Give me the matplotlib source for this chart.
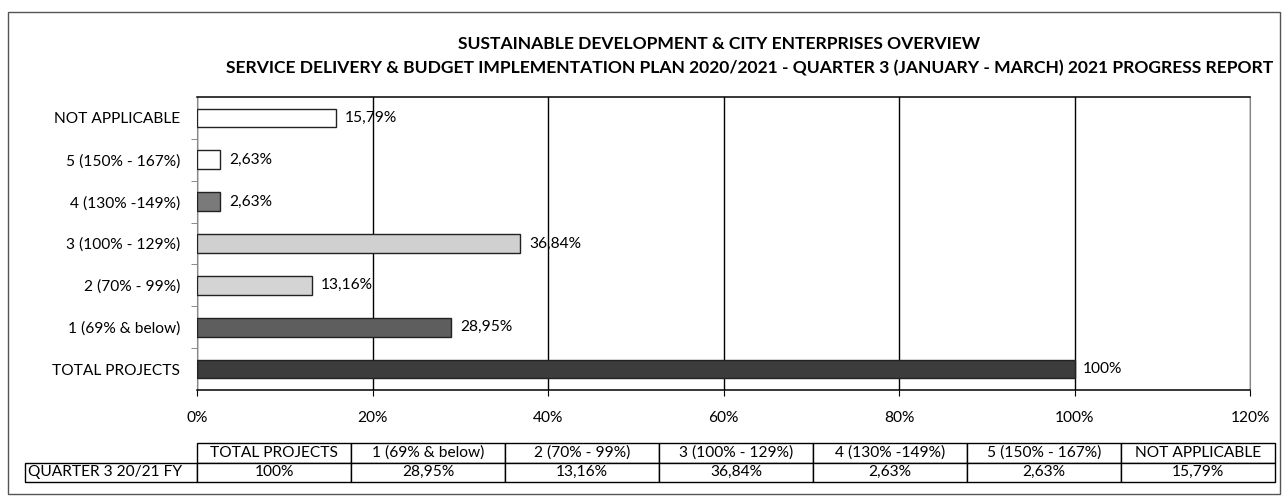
import matplotlib.pyplot as plt
from matplotlib.table import Table
from matplotlib.patches import Rectangle

# Chart data (bottom to top as drawn)
categories = ["TOTAL PROJECTS", "1 (69% & below)", "2 (70% - 99%)", "3 (100% - 129%)",
              "4 (130% -149%)", "5 (150% - 167%)", "NOT APPLICABLE"]
values = [100, 28.95, 13.16, 36.84, 2.63, 2.63, 15.79]
bar_colors = ["#3c3c3c", "#5e5e5e", "#d4d4d4", "#d0d0d0", "#7a7a7a", "#ffffff", "#ffffff"]
x_ticks = [0, 20, 40, 60, 80, 100, 120]
row_label = "QUARTER 3 20/21 FY"
title_1 = "SUSTAINABLE DEVELOPMENT & CITY ENTERPRISES OVERVIEW"
title_2 = ("SERVICE DELIVERY & BUDGET IMPLEMENTATION PLAN 2020/2021 - "
           "QUARTER 3 (JANUARY - MARCH) 2021 PROGRESS REPORT")


def pct(v):
    if v == int(v):
        return f"{int(v)}%"
    return f"{v:.2f}".replace(".", ",") + "%"


plt.rcParams['font.family'] = ['Lato', 'DejaVu Sans']
FS = 11.2
TFS = 12.6

fig = plt.figure(figsize=(12.84, 5.04), dpi=100)
W, H = 1284, 504
ax = fig.add_axes([197 / W, 1 - 390 / H, (1250 - 197) / W, (390 - 97) / H])

# outer frame
fig.patches.append(Rectangle((8 / W, 1 - 494 / H), 1272 / W, 482 / H,
                             transform=fig.transFigure, fill=False,
                             edgecolor="#555555", linewidth=1.0))

ypos = list(range(len(categories)))
ax.barh(ypos, values, height=0.45, color=bar_colors, edgecolor="#222222",
        linewidth=1.0, zorder=3)
for y, v in zip(ypos, values):
    ax.text(v + 1.0, y, pct(v), va="center", ha="left", fontsize=FS, zorder=4)

ax.set_xlim(0, 120)
ax.set_ylim(-0.5, len(categories) - 0.5)
ax.set_xticks(x_ticks)
ax.set_xticklabels([pct(t) for t in x_ticks], fontsize=FS)
ax.set_yticks(ypos)
ax.set_yticklabels(categories, fontsize=FS)
ax.set_yticks([y + 0.5 for y in ypos[:-1]], minor=True)
ax.tick_params(axis="y", which="major", length=0, pad=12)
ax.tick_params(axis="y", which="minor", length=4, direction="out", color="#777777")
ax.tick_params(axis="x", length=4, direction="out", pad=11)
ax.xaxis.grid(True, color="black", linewidth=1.0, zorder=0)
for s in ["top", "bottom"]:
    ax.spines[s].set_color("black")
    ax.spines[s].set_linewidth(1.1)
for s in ["left", "right"]:
    ax.spines[s].set_color("#888888")
    ax.spines[s].set_linewidth(0.8)

fig.text(719 / W, 1 - 44 / H, title_1, ha="center", va="center",
         fontsize=TFS, fontweight="bold")
fig.text(750 / W, 1 - 68 / H, title_2, ha="center", va="center",
         fontsize=TFS, fontweight="bold")

# data table under the axis
ax_h = 390 - 97
tbl = Table(ax, bbox=[(25 - 197) / 1053, (390 - 482) / ax_h, 1250 / 1053, 39 / ax_h])
col_w = 154
tbl.add_cell(0, 0, width=172, height=1, text="", loc="left").set_linewidth(0)
tbl.add_cell(1, 0, width=172, height=1, text=row_label, loc="left")
for i, (c, v) in enumerate(zip(categories, values)):
    tbl.add_cell(0, i + 1, width=col_w, height=1, text=c, loc="center")
    tbl.add_cell(1, i + 1, width=col_w, height=1, text=pct(v), loc="center")
tbl.auto_set_font_size(False)
tbl.set_fontsize(FS)
for cell in tbl.get_celld().values():
    cell.PAD = 0.02
ax.add_table(tbl)

fig.savefig("out.png", dpi=100)
